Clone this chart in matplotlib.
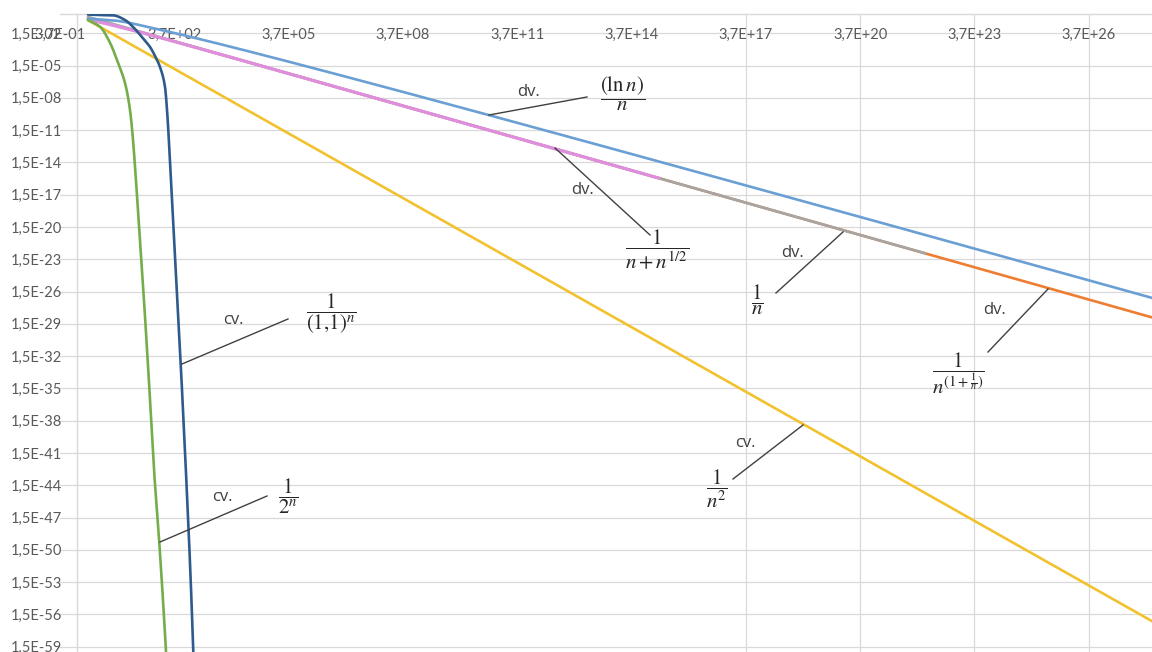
import matplotlib
matplotlib.use("Agg")
import numpy as np
import matplotlib.pyplot as plt
from matplotlib.lines import Line2D

# ---------------- data ----------------
n_lnn = [2, 10, 1e2, 1e3, 1e4, 1e6, 1e8, 1e10, 1e12, 1e14, 1e16, 1e18,
         1e20, 1e22, 1e24, 1e26, 1e28, 1e29]
lnn_over_n = [0.347, 0.230, 4.61e-2, 6.91e-3, 9.21e-4, 1.38e-5, 1.84e-7,
              2.30e-9, 2.76e-11, 3.22e-13, 3.68e-15, 4.14e-17, 4.61e-19,
              5.07e-21, 5.53e-23, 5.99e-25, 6.45e-27, 6.68e-28]

n_sqrt = [2, 5, 10, 100, 1e3, 1e4, 1e6, 1e9, 1e12, 1.9e15]
inv_n_plus_sqrt = [0.293, 0.138, 0.0760, 9.09e-3, 9.69e-4, 9.90e-5, 9.99e-7,
                   1.0e-9, 1.0e-12, 5.26e-16]

n_inv = [2, 1e3, 1e8, 1e15, 1.9e22]
inv_n = [0.5, 1e-3, 1e-8, 1e-15, 5.26e-23]

n_pow = [2, 3, 5, 10, 30, 100, 1e3, 1e4, 1e29]
inv_n_pow = [0.354, 0.231, 0.145, 0.0794, 0.0298, 9.55e-3, 9.93e-4, 9.99e-5, 1e-29]

n_sq = [2, 1e5, 1e10, 1e15, 1e20, 1e25, 1e29]
inv_n_sq = [0.25, 1e-10, 1e-20, 1e-30, 1e-40, 1e-50, 1e-58]

n_geo11 = [2, 4.1, 9, 18.7, 30.4, 52, 85, 122, 155, 210, 237, 301, 384, 489,
           622, 793, 979, 1160, 1325]
inv_geo11 = [0.83, 0.74, 0.70, 0.26, 0.058, 6.8e-3, 8.0e-4, 7.6e-5, 1.1e-5,
             1.5e-7, 1.1e-9, 3.5e-16, 3.7e-23, 4.0e-30, 1.5e-37, 1.9e-45,
             6.9e-53, 4.8e-60, 1.9e-65]

n_geo2 = [2, 4.1, 7.6, 12.3, 18.7, 25.3, 46.3, 75, 108, 150, 219, 251]
inv_geo2 = [0.25, 0.062, 1.9e-3, 2.6e-5, 3.6e-7, 1.1e-9, 9.3e-22, 2.2e-33,
            3.9e-43, 4.2e-50, 1.5e-59, 1.4e-63]

x_ticks = [3.6788e-01, 3.6788e+02, 3.6788e+05, 3.6788e+08, 3.6788e+11,
           3.6788e+14, 3.6788e+17, 3.6788e+20, 3.6788e+23, 3.6788e+26]
x_tick_labels = ["3,7E-01", "3,7E+02", "3,7E+05", "3,7E+08", "3,7E+11",
                 "3,7E+14", "3,7E+17", "3,7E+20", "3,7E+23", "3,7E+26"]
x_grid_ticks = x_ticks[6:]

y_ticks = [1.5e-02, 1.5e-05, 1.5e-08, 1.5e-11, 1.5e-14, 1.5e-17, 1.5e-20,
           1.5e-23, 1.5e-26, 1.5e-29, 1.5e-32, 1.5e-35, 1.5e-38, 1.5e-41,
           1.5e-44, 1.5e-47, 1.5e-50, 1.5e-53, 1.5e-56, 1.5e-59]
y_tick_labels = ["1,5E-02", "1,5E-05", "1,5E-08", "1,5E-11", "1,5E-14",
                 "1,5E-17", "1,5E-20", "1,5E-23", "1,5E-26", "1,5E-29",
                 "1,5E-32", "1,5E-35", "1,5E-38", "1,5E-41", "1,5E-44",
                 "1,5E-47", "1,5E-50", "1,5E-53", "1,5E-56", "1,5E-59"]

# annotation texts
formulas = [r"$\dfrac{(\ln n)}{n}$", r"$\dfrac{1}{n+n^{1/2}}$", r"$\dfrac{1}{n}$",
            r"$\dfrac{1}{n^{(1+\frac{1}{n})}}$", r"$\dfrac{1}{n^2}$",
            r"$\dfrac{1}{(1{,}1)^n}$", r"$\dfrac{1}{2^n}$"]
verdicts = ["dv.", "dv.", "dv.", "dv.", "cv.", "cv.", "cv."]

# ---------------- layout (pixels of a 1152x652 image) ----------------
W, H = 1152, 652
formula_px = [(623, 94), (657, 249), (757, 300), (958, 373), (717, 489),
              (331, 314), (288, 496)]
verdict_px = [(528, 92), (583, 190), (792, 253), (995, 310), (745, 443),
              (233, 320), (222, 497)]
leader_px = [((489, 115), (587, 97)), ((555, 148), (650, 235)),
             ((843, 232), (776, 293)), ((1048, 289), (988, 352)),
             ((803, 425), (733, 479)), ((182, 364), (288, 319)),
             ((160, 542), (267, 496))]


def smooth_loglog(xs, ys, per_seg=40):
    """Monotone cubic (Fritsch-Carlson) smoothing in log-log space,
    like the smoothed lines of a spreadsheet chart."""
    lx = np.log10(np.asarray(xs, float))
    ly = np.log10(np.asarray(ys, float))
    h = np.diff(lx)
    d = np.diff(ly) / h
    m = np.zeros_like(lx)
    m[0], m[-1] = d[0], d[-1]
    for k in range(1, len(lx) - 1):
        if d[k - 1] * d[k] > 0:
            w1 = 2 * h[k] + h[k - 1]
            w2 = h[k] + 2 * h[k - 1]
            m[k] = (w1 + w2) / (w1 / d[k - 1] + w2 / d[k])
    ox, oy = [], []
    for k in range(len(lx) - 1):
        t = np.linspace(0, 1, per_seg, endpoint=(k == len(lx) - 2))
        h00 = 2 * t**3 - 3 * t**2 + 1
        h10 = t**3 - 2 * t**2 + t
        h01 = -2 * t**3 + 3 * t**2
        h11 = t**3 - t**2
        ox.append(lx[k] + t * h[k])
        oy.append(h00 * ly[k] + h10 * h[k] * m[k] + h01 * ly[k + 1] + h11 * h[k] * m[k + 1])
    return 10 ** np.concatenate(ox), 10 ** np.concatenate(oy)


plt.rcParams["mathtext.fontset"] = "stix"

fig = plt.figure(figsize=(W / 100, H / 100), dpi=100)
top_px = 13.67
ax = fig.add_axes([60 / W, 0.0, 1092 / W, (H - top_px) / H])
ax.set_xscale("log")
ax.set_yscale("log")
ax.set_xlim(0.36788, 1.685e28)
ax.set_ylim(10 ** -59.32, 1.0)

grid_c = "#D9D9D9"
for v in y_ticks:
    ax.axhline(v, color=grid_c, lw=0.9, zorder=0)
for v in x_grid_ticks:
    ax.axvline(v, color=grid_c, lw=0.9, zorder=0)
ax.axvline(1.0, color=grid_c, lw=1.0, zorder=0)

for s in ["left", "right", "bottom"]:
    ax.spines[s].set_visible(False)
ax.spines["top"].set_color(grid_c)
ax.spines["top"].set_linewidth(1.0)

lw = 1.9
series = [
    (n_pow, inv_n_pow, "#ED7D31", lw, 2),
    (n_inv, inv_n, "#A5A5A5", lw, 3),
    (n_sqrt, inv_n_plus_sqrt, "#DE8EDC", 2.3, 4),
    (n_lnn, lnn_over_n, "#6A9FD3", lw, 5),
    (n_sq, inv_n_sq, "#F2C12E", lw, 5),
    (n_geo2, inv_geo2, "#74AD4B", lw, 6),
    (n_geo11, inv_geo11, "#2E5A8C", lw, 7),
]
for xs, ys, c, w, z in series:
    sx, sy = smooth_loglog(xs, ys)
    ax.plot(sx, sy, color=c, lw=w, zorder=z, solid_capstyle="round")

tick_font = dict(family="Lato", size=10.5)
ax.set_yticks(y_ticks)
ax.set_yticklabels(y_tick_labels, color="#595959", **tick_font)
ax.yaxis.set_minor_locator(matplotlib.ticker.NullLocator())
ax.tick_params(axis="y", length=0, pad=-1.5)

ax.xaxis.set_ticks_position("top")
ax.set_xticks(x_ticks)
ax.set_xticklabels(x_tick_labels, color="#595959", **tick_font)
ax.xaxis.set_minor_locator(matplotlib.ticker.NullLocator())
ax.tick_params(axis="x", length=0, labeltop=True, labelbottom=False, pad=-15.5)
for lab in ax.get_xticklabels():
    lab.set_va("center")


def fxy(p):
    return p[0] / W, 1 - p[1] / H


for (p0, p1) in leader_px:
    a, b = fxy(p0), fxy(p1)
    fig.add_artist(Line2D([a[0], b[0]], [a[1], b[1]], color="#404040", lw=1.0,
                          transform=fig.transFigure, zorder=10))

for txt, p in zip(formulas, formula_px):
    x, y = fxy(p)
    fig.text(x, y, txt, ha="center", va="center", fontsize=15, color="#262626",
             zorder=11)

for txt, p in zip(verdicts, verdict_px):
    x, y = fxy(p)
    fig.text(x, y, txt, ha="center", va="center", fontsize=12,
             family="Open Sans", color="#404040", zorder=11)

fig.savefig("out.png", dpi=100)
